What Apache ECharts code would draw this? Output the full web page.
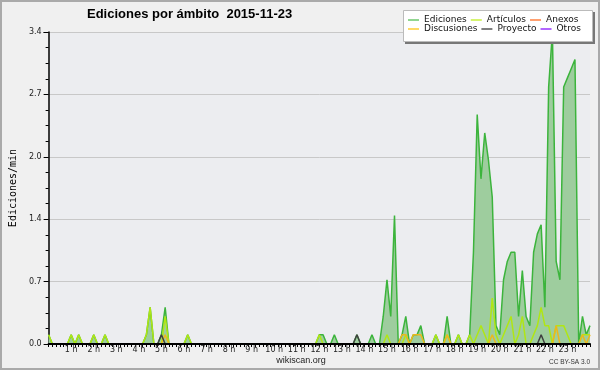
<!DOCTYPE html>
<html><head><meta charset="utf-8">
<script src="https://cdn.jsdelivr.net/npm/echarts@6/dist/echarts.min.js"></script>
<style>html,body{margin:0;padding:0;background:#f0f0f0}#c{width:600px;height:370px}</style>
</head><body><div id="c"></div>
<script>
// 10-minute bins, 0:00 .. 24:00 (145 points)
const hourLabels = ['1 h','2 h','3 h','4 h','5 h','6 h','7 h','8 h','9 h','10 h','11 h','12 h',
  '13 h','14 h','15 h','16 h','17 h','18 h','19 h','20 h','21 h','22 h','23 h'];
const seriesNames = ['Ediciones','Artículos','Anexos','Discusiones','Proyecto','Otros'];

const ediciones = [
  0.1,0,0,0,0,0,  0.1,0,0.1,0,0,0,  0.1,0,0,0.1,0,0,  0,0,0,0,0,0,
  0,0,0.1,0.4,0,0,  0.1,0.4,0,0,0,0,  0,0.1,0,0,0,0,  0,0,0,0,0,0,
  0,0,0,0,0,0,  0,0,0,0,0,0,  0,0,0,0,0,0,  0,0,0,0,0,0,
  0.1,0.1,0,0,0.1,0,  0,0,0,0,0.1,0,  0,0,0.1,0,0,0.3,  0.7,0.3,1.4,0,0.1,0.3,
  0,0.1,0.1,0.2,0,0,  0,0.1,0,0,0.3,0,  0,0.1,0,0,0.1,1.0,  2.5,1.8,2.3,2.0,1.6,0.2,
  0.1,0.7,0.9,1.0,1.0,0.3,  0.8,0.3,0.2,1.0,1.2,1.3,  0.4,2.8,3.4,0.9,0.7,2.8,  2.9,3.0,3.1,0,0.3,0.1,
  0.2
];
const articulos = [
  0.1,0,0,0,0,0,  0.1,0,0.1,0,0,0,  0.1,0,0,0.1,0,0,  0,0,0,0,0,0,
  0,0,0.1,0.4,0,0,  0,0.3,0,0,0,0,  0,0.1,0,0,0,0,  0,0,0,0,0,0,
  0,0,0,0,0,0,  0,0,0,0,0,0,  0,0,0,0,0,0,  0,0,0,0,0,0,
  0.1,0,0,0,0,0,  0,0,0,0,0,0,  0,0,0,0,0,0,  0.1,0,0,0,0,0.1,
  0,0,0,0,0,0,  0,0.1,0,0,0.1,0,  0,0.1,0,0,0.1,0,  0.1,0.2,0.1,0,0.5,0.1,
  0,0.1,0.2,0.3,0,0.1,  0.3,0,0,0.1,0.2,0.4,  0.2,0.2,0,0.2,0.2,0.2,  0.1,0,0,0,0.1,0.1,
  0.1
];
const anexos = [
  0,0,0,0,0,0,  0,0,0,0,0,0,  0,0,0,0,0,0,  0,0,0,0,0,0,
  0,0,0,0,0,0,  0,0,0,0,0,0,  0,0,0,0,0,0,  0,0,0,0,0,0,
  0,0,0,0,0,0,  0,0,0,0,0,0,  0,0,0,0,0,0,  0,0,0,0,0,0,
  0,0,0,0,0,0,  0,0,0,0,0,0,  0,0,0,0,0,0,  0,0,0,0,0,0,
  0,0,0,0,0,0,  0,0,0,0,0,0,  0,0,0,0,0,0,  0,0,0,0,0,0,
  0,0,0,0,0,0,  0,0,0,0,0,0,  0,0,0,0,0,0,  0,0,0,0,0,0,
  0
];
const discusiones = [
  0,0,0,0,0,0,  0,0,0,0,0,0,  0,0,0,0,0,0,  0,0,0,0,0,0,
  0,0,0,0,0,0,  0,0.1,0,0,0,0,  0,0,0,0,0,0,  0,0,0,0,0,0,
  0,0,0,0,0,0,  0,0,0,0,0,0,  0,0,0,0,0,0,  0,0,0,0,0,0,
  0,0,0,0,0,0,  0,0,0,0,0,0,  0,0,0,0,0,0,  0,0,0,0,0.1,0.1,
  0,0.1,0.1,0.1,0,0,  0,0,0,0,0.1,0,  0,0,0,0,0,0,  0,0,0,0,0.1,0,
  0,0,0,0,0,0,  0,0,0,0,0,0,  0,0,0,0.2,0,0,  0,0,0,0,0.1,0,
  0.1
];
const proyecto = [
  0,0,0,0,0,0,  0,0,0,0,0,0,  0,0,0,0,0,0,  0,0,0,0,0,0,
  0,0,0,0,0,0,  0.1,0,0,0,0,0,  0,0,0,0,0,0,  0,0,0,0,0,0,
  0,0,0,0,0,0,  0,0,0,0,0,0,  0,0,0,0,0,0,  0,0,0,0,0,0,
  0,0,0,0,0,0,  0,0,0,0,0.1,0,  0,0,0,0,0,0,  0,0,0,0,0,0,
  0,0,0,0,0,0,  0,0,0,0,0,0,  0,0,0,0,0,0,  0,0,0,0,0,0,
  0,0,0,0,0,0,  0,0,0,0,0,0.1,  0,0,0,0,0,0,  0,0,0,0,0,0,
  0
];
const otros = [
  0,0,0,0,0,0,  0,0,0,0,0,0,  0,0,0,0,0,0,  0,0,0,0,0,0,
  0,0,0,0,0,0,  0,0,0,0,0,0,  0,0,0,0,0,0,  0,0,0,0,0,0,
  0,0,0,0,0,0,  0,0,0,0,0,0,  0,0,0,0,0,0,  0,0,0,0,0,0,
  0,0,0,0,0,0,  0,0,0,0,0,0,  0,0,0,0,0,0,  0,0,0,0,0,0,
  0,0,0,0,0,0,  0,0,0,0,0,0,  0,0,0,0,0,0,  0,0,0,0,0,0,
  0,0,0,0,0,0,  0,0,0,0,0,0,  0,0,0,0,0,0,  0,0,0,0,0,0,
  0
];
const yMax = 3.4;

const categories = ediciones.map((_, i) => {
  const m = i * 10;
  return String(Math.floor(m / 60)).padStart(2, '0') + ':' + String(m % 60).padStart(2, '0');
});

const colors = {
  'Ediciones': '#3cb43c', 'Artículos': '#b0e614', 'Anexos': '#ff7a3c',
  'Discusiones': '#ecb81c', 'Proyecto': '#404040', 'Otros': '#9a3cff'
};
const legendColors = {
  'Ediciones': '#6cc86c', 'Artículos': '#c8f040', 'Anexos': '#ff8040',
  'Discusiones': '#ffcc33', 'Proyecto': '#555555', 'Otros': '#9933ff'
};
const values = {
  'Ediciones': ediciones, 'Artículos': articulos, 'Anexos': anexos,
  'Discusiones': discusiones, 'Proyecto': proyecto, 'Otros': otros
};

const series = seriesNames.map(name => {
  const s = {
    name, type: 'line', data: values[name], symbol: 'none', smooth: false,
    color: colors[name],
    lineStyle: { width: 1.5, color: colors[name] },
    z: 2
  };
  if (name === 'Ediciones') s.areaStyle = { color: '#9ecd9e', opacity: 1 };
  return s;
});

const legendFont = { fontFamily: 'DejaVu Sans', fontSize: 9, color: '#111' };
function legendRow(names, top) {
  return {
    left: 408, top, padding: 0, itemGap: 4, itemWidth: 11, itemHeight: 1.5,
    icon: 'rect', orient: 'horizontal', selectedMode: false, z: 6,
    textStyle: legendFont,
    data: names.map((n, k) => ({
      name: n,
      itemStyle: { color: legendColors[n] },
      textStyle: k === 0 ? { width: 52 } : (k === 1 ? { width: 40 } : {})
    }))
  };
}

const chart = echarts.init(document.getElementById('c'));
chart.setOption({
  animation: false,
  backgroundColor: '#f0f0f0',
  title: {
    text: 'Ediciones por ámbito  2015-11-23', left: 87, top: 8, padding: 0,
    textStyle: { fontFamily: 'Liberation Sans', fontWeight: 'bold', fontSize: 13, color: '#000' }
  },
  grid: { left: 46, right: 10, top: 32, bottom: 26, show: true, backgroundColor: '#ecedf0', borderWidth: 0 },
  legend: [
    legendRow(seriesNames.slice(0, 3), 15.5),
    legendRow(seriesNames.slice(3, 6), 24.5)
  ],
  xAxis: {
    type: 'category', data: categories, boundaryGap: false, z: 5,
    axisLine: { lineStyle: { color: '#000', width: 2 } },
    axisTick: { interval: 0, length: 3, lineStyle: { color: '#000', width: 1 } },
    axisLabel: {
      interval: 0, margin: 2, fontFamily: 'DejaVu Sans', fontSize: 8, color: '#222',
      formatter: (v, i) => (i % 6 === 0 && i > 0 && i < 144) ? hourLabels[i / 6 - 1] : ''
    },
    splitLine: { show: false }
  },
  yAxis: {
    type: 'value', min: 0, max: yMax, interval: yMax / 5,
    name: 'Ediciones/min', nameLocation: 'middle', nameGap: 29,
    nameTextStyle: { fontFamily: 'DejaVu Sans Mono', fontSize: 10, color: '#000' },
    axisLine: { show: true, lineStyle: { color: '#000', width: 1.5 } },
    axisTick: { show: true, length: 5, lineStyle: { color: '#000' } },
    minorTick: { show: true, splitNumber: 4, length: 3, lineStyle: { color: '#000' } },
    axisLabel: { formatter: v => v.toFixed(1), margin: 7, fontFamily: 'DejaVu Sans', fontSize: 8, color: '#222' },
    splitLine: { show: true, lineStyle: { color: '#c8c8c8', width: 1 } }
  },
  graphic: [
    { type: 'rect', z: 1, shape: { x: 1, y: 1, width: 598, height: 368 }, style: { fill: 'none', stroke: '#aaaaaa', lineWidth: 2 } },
    { type: 'rect', z: 3, shape: { x: 405, y: 12, width: 190, height: 32 }, style: { fill: '#777777' } },
    { type: 'rect', z: 3, shape: { x: 403.5, y: 10.5, width: 189, height: 31 }, style: { fill: '#ffffff', stroke: '#bbbbbb', lineWidth: 1 } },
    { type: 'text', z: 3, x: 301, y: 361, style: { text: 'wikiscan.org', fontFamily: 'Liberation Sans', fontSize: 9, fill: '#222', align: 'center', verticalAlign: 'middle' } },
    { type: 'text', z: 3, x: 590, y: 362, style: { text: 'CC BY-SA 3.0', fontFamily: 'Liberation Sans', fontSize: 6.5, fill: '#333', align: 'right', verticalAlign: 'middle' } }
  ],
  series
});
</script>
</body></html>
